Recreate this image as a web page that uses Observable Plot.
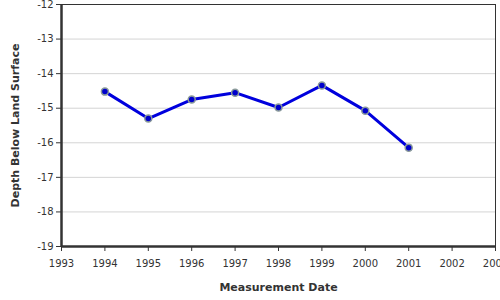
<!DOCTYPE html>
<html>
<head>
<meta charset="utf-8">
<script src="https://cdn.jsdelivr.net/npm/d3@7"></script>
<script src="https://cdn.jsdelivr.net/npm/@observablehq/plot@0.6"></script>
<style>
  html, body { margin: 0; padding: 0; background: #fff; }
  #chart { width: 500px; height: 300px; overflow: hidden; }
</style>
</head>
<body>
<div id="chart"></div>
<script>
const years = [1994, 1995, 1996, 1997, 1998, 1999, 2000, 2001];
const depths = [-14.52, -15.30, -14.75, -14.55, -14.98, -14.34, -15.07, -16.14];
const xTicks = [1993, 1994, 1995, 1996, 1997, 1998, 1999, 2000, 2001, 2002, 2003];
const yTicks = [-12, -13, -14, -15, -16, -17, -18, -19];

const data = years.map((y, i) => ({year: y, depth: depths[i]}));

const chart = Plot.plot({
  width: 500,
  height: 300,
  marginLeft: 61,
  marginRight: 5,
  marginTop: 4,
  marginBottom: 54,
  style: {fontFamily: "'DejaVu Sans', sans-serif", fontSize: "10px", color: "#333", background: "#fff"},
  x: {domain: [1993, 2003], ticks: xTicks, tickFormat: d => String(d), tickSize: 5, tickPadding: 8,
      label: "Measurement Date", labelAnchor: "center", labelOffset: 44, labelArrow: "none"},
  y: {domain: [-19, -12], ticks: yTicks, tickFormat: d => String(d), tickSize: 5, tickPadding: 3,
      label: "Depth Below Land Surface", labelAnchor: "center", labelOffset: 50, labelArrow: "none"},
  marks: [
    Plot.ruleY(yTicks, {stroke: "#d4d4d4", strokeWidth: 1}),
    Plot.frame({stroke: "#333", strokeWidth: 1}),
    Plot.ruleX([1993], {stroke: "#333", strokeWidth: 2.5}),
    Plot.ruleY([-19], {stroke: "#333", strokeWidth: 2.5}),
    Plot.axisX({ticks: xTicks, tickFormat: d => String(d), tickSize: 5, tickPadding: 8, stroke: "#333",
      label: "Measurement Date", labelAnchor: "center", labelOffset: 44, labelArrow: "none",
      fontSize: 10}),
    Plot.axisY({ticks: yTicks, tickFormat: d => String(d), tickSize: 5, tickPadding: 3, stroke: "#333",
      label: "Depth Below Land Surface", labelAnchor: "center", labelOffset: 50, labelArrow: "none",
      fontSize: 10}),
    Plot.line(data, {x: "year", y: "depth", stroke: "#0000dd", strokeWidth: 3}),
    Plot.dot(data, {x: "year", y: "depth", r: 3.5, fill: "#0000cc", stroke: "#8a9a9a", strokeWidth: 1.5})
  ]
});
chart.querySelectorAll("g[aria-label='x-axis label'] text, g[aria-label='y-axis label'] text").forEach(t => {
  t.style.fontWeight = "bold";
  t.style.fontSize = "11px";
  t.setAttribute("fill", "#333");
});
document.getElementById("chart").appendChild(chart);
</script>
</body>
</html>
